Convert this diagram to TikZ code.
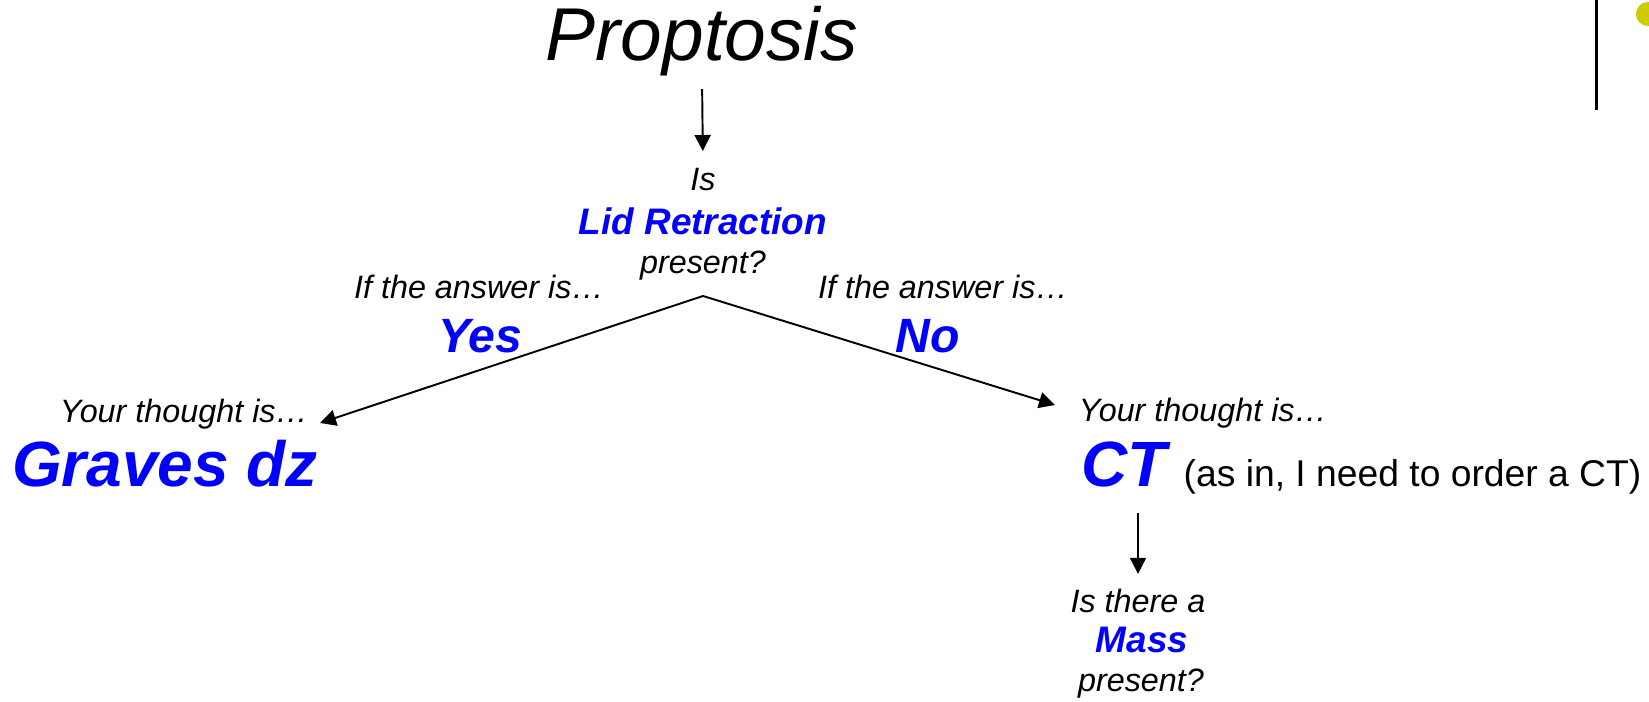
\documentclass[tikz,border=0pt]{standalone}
\usepackage{fontspec}
\setmainfont{Liberation Sans}
\usetikzlibrary{arrows.meta}
\definecolor{keyblue}{RGB}{0,0,255}
\definecolor{dotyellow}{RGB}{204,204,0}

\begin{document}
\begin{tikzpicture}[
    small/.style={inner sep=0pt,anchor=base,font=\itshape\fontsize{9.2}{11}\selectfont},
    key/.style={inner sep=0pt,anchor=base,text=keyblue,font=\bfseries\itshape\fontsize{10.5}{12}\selectfont},
    answer/.style={inner sep=0pt,anchor=base,text=keyblue,font=\bfseries\itshape\fontsize{13.7}{16}\selectfont},
    thought/.style={inner sep=0pt,anchor=base,text=keyblue,font=\bfseries\itshape\fontsize{18.2}{21}\selectfont},
    arr/.style={-{Triangle[length=1.6mm,width=1.6mm]},line width=0.55pt}
]
    \useasboundingbox (0,0) rectangle (16.49,7.02);

    % slide bar and dot
    \draw[line width=0.85pt] (15.96,7.02) -- (15.96,5.92);
    \fill[dotyellow] (16.48,6.88) circle (0.12);

    % presenting sign
    \node[inner sep=0pt,anchor=base,font=\itshape\fontsize{21.3}{25}\selectfont] (prop) at (7.02,6.41) {Proptosis};

    % first question
    \node[small] (is) at (7.03,5.11) {Is};
    \node[key] (lid) at (7.03,4.67) {Lid Retraction};
    \node[small] (pres) at (7.03,4.28) {present?};
    \draw[arr,shorten <=0.12cm,shorten >=0.17cm] (prop.south) -- (is.north);
    \coordinate (fork) at (7.03,4.06);

    %%%%%%%%%%%%%%%%%%%%%%%%%%%%%%%%%%%%%%%%%%%%%%%%%%%%%%

    % answer yes
    \node[small] (ansyes) at (4.79,4.03) {If the answer is…};
    \node[answer] (yes) at (4.80,3.49) {Yes};

    % thought for yes
    \node[small] (thyes) at (1.84,2.79) {Your thought is…};
    \node[thought] (graves) at (1.65,2.15) {Graves dz};
    \coordinate (yesend) at (3.20,2.79);
    \draw[arr] (fork) -- (yesend);

    %%%%%%%%%%%%%%%%%%%%%%%%%%%%%%%%%%%%%%%%%%%%%%%%%%%%%%

    % answer no
    \node[small] (ansno) at (9.43,4.03) {If the answer is…};
    \node[answer] (no) at (9.28,3.49) {No};

    % thought for no
    \node[small] (thno) at (12.03,2.80) {Your thought is…};
    \node[thought,anchor=base west] (ct) at (10.81,2.15) {CT};
    \node[inner sep=0pt,anchor=base west,font=\fontsize{10.6}{12}\selectfont] (asin) at (11.83,2.15) {(as in, I need to order a CT)};
    \coordinate (noend) at (10.55,2.97);
    \draw[arr] (fork) -- (noend);

    %%%%%%%%%%%%%%%%%%%%%%%%%%%%%%%%%%%%%%%%%%%%%%%%%%%%%%

    % next question
    \node[small] (isthere) at (11.38,0.89) {Is there a};
    \node[key] (mass) at (11.42,0.49) {Mass};
    \node[small] (pres2) at (11.41,0.10) {present?};
    \draw[arr,shorten <=0.25cm,shorten >=0.15cm] (ct.south -| isthere) -- (isthere.north);

\end{tikzpicture}
\end{document}
